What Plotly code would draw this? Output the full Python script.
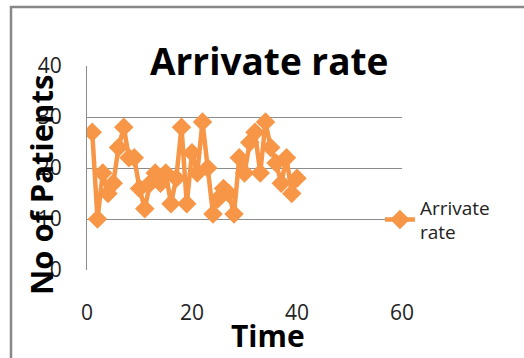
import plotly.graph_objects as go

time = list(range(1, 41))
patients = [27, 10, 19, 15, 17, 24, 28, 22, 22, 16,
            12, 17, 19, 17, 19, 13, 18, 28, 13, 23,
            19, 29, 20, 11, 14, 16, 15, 11, 22, 19,
            25, 27, 19, 29, 24, 21, 17, 22, 15, 18]
x_ticks = [0, 20, 40, 60]
y_ticks = [0, 10, 20, 30, 40]
series_name = "Arrivate<br>rate"
title_text = "Arrivate rate"
x_title = "Time"
y_title = "No of Patients"

ORANGE = "#F79646"
GRID = "#8c8c8c"
FONT = "Open Sans"

fig = go.Figure()
fig.add_trace(go.Scatter(
    x=time, y=patients, mode="lines+markers", name=series_name,
    line=dict(color=ORANGE, width=4.5),
    marker=dict(symbol="diamond", size=15, color=ORANGE),
))

fig.update_layout(
    width=524, height=358,
    margin=dict(l=87, r=122, t=66, b=88),
    paper_bgcolor="white", plot_bgcolor="white",
    showlegend=True,
    legend=dict(x=0.93, y=0.40, xanchor="left", yanchor="top",
                bgcolor="rgba(0,0,0,0)",
                font=dict(family=FONT, size=19, color="#222")),
    xaxis=dict(range=[0, 60], tickvals=x_ticks, showgrid=False, zeroline=False,
               showline=False, ticks="", ticklabelstandoff=28,
               tickfont=dict(family=FONT, size=21, color="#222")),
    yaxis=dict(range=[0, 40], tickvals=y_ticks, showgrid=True, gridcolor=GRID,
               gridwidth=1, zeroline=False, showline=True, linecolor=GRID,
               linewidth=1, ticks="", ticklabelstandoff=20,
               tickfont=dict(family=FONT, size=21, color="#222")),
    annotations=[
        dict(text="<b>" + title_text + "</b>", xref="paper", yref="paper",
             x=(269 - 87) / 315, y=(270 - 60) / 204, showarrow=False,
             xanchor="center", yanchor="middle",
             font=dict(family=FONT, size=37, color="black")),
        dict(text="<b>" + x_title + "</b>", xref="paper", yref="paper",
             x=(268 - 87) / 315, y=(270 - 335) / 204, showarrow=False,
             xanchor="center", yanchor="middle",
             font=dict(family=FONT, size=30, color="black")),
        dict(text="<b>" + y_title + "</b>", xref="paper", yref="paper",
             x=(41 - 87) / 315, y=(270 - 185) / 204, showarrow=False,
             xanchor="center", yanchor="middle", textangle=-90,
             font=dict(family=FONT, size=31, color="black")),
    ],
    shapes=[
        dict(type="rect", xref="paper", yref="paper",
             x0=(11 - 87) / 315, x1=(540 - 87) / 315,
             y0=(270 - 380) / 204, y1=(270 - 7) / 204,
             line=dict(color="#888888", width=2.5), layer="below"),
    ],
)

fig.write_html("out.html")
